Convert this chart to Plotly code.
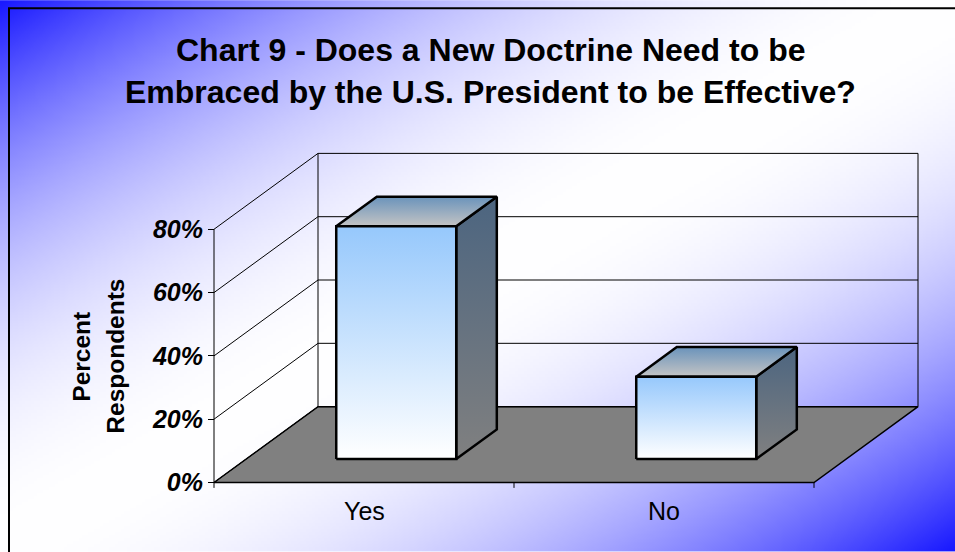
import base64, struct, zlib
import numpy as np
import plotly.graph_objects as go

# ---------------- data ----------------
CATEGORIES = ["Yes", "No"]
VALUES = [73.5, 26.0]            # percent respondents
Y_TICKS = [0, 20, 40, 60, 80]
Y_TICKTEXT = ["0%", "20%", "40%", "60%", "80%"]
TITLE_LINES = ["Chart 9 - Does a New Doctrine Need to be",
               "Embraced by the U.S. President to be Effective?"]
Y_TITLE_LINES = ["Percent", "Respondents"]

# ---------------- layout geometry ----------------
W, H = 955, 552
X_LO, X_HI = -0.62, 1.90
Y_LO, Y_HI = -3.0, 108.2
ML, MR, MT, MB = 178, 21, 140, 59.5
PW, PH = W - ML - MR, H - MT - MB
Y_MAX = 80                      # axis max
DX, DY = 0.3467, 23.97          # oblique depth offset (category units, %)
BAR_W = 0.4
D0, D1 = 0.31, 0.70             # bar depth span (fraction of floor depth)
FONT = "Liberation Sans, Arial, sans-serif"

def px_x(px):
    return (px - ML) / PW
def px_y(py):
    return (H - MB - py) / PH
def data_x(xv):
    return (xv - X_LO) / (X_HI - X_LO)

# ---------------- background gradient image ----------------
gw, gh = 320, 185
xs = np.linspace(0, 1, gw)[None, :]
ys = np.linspace(0, 1, gh)[:, None]
t = (xs + ys) / 2.0
s = np.minimum(t, 1 - t) * 2.0          # 0 at corners, 1 at diagonal
s = np.clip(s, 0, 1)
v = 25 + 230 * (1 - (1 - s) ** 2)
rgb = np.zeros((gh, gw, 3), dtype=np.uint8)
rgb[..., 0] = v.astype(np.uint8)
rgb[..., 1] = v.astype(np.uint8)
rgb[..., 2] = 255

def make_png(arr):
    h, w, _ = arr.shape
    raw = b"".join(b"\x00" + arr[i].tobytes() for i in range(h))
    def chunk(tag, data):
        return (struct.pack(">I", len(data)) + tag + data +
                struct.pack(">I", zlib.crc32(tag + data) & 0xffffffff))
    return (b"\x89PNG\r\n\x1a\n" +
            chunk(b"IHDR", struct.pack(">IIBBBBB", w, h, 8, 2, 0, 0, 0)) +
            chunk(b"IDAT", zlib.compress(raw, 9)) + chunk(b"IEND", b""))

bg_src = "data:image/png;base64," + base64.b64encode(make_png(rgb)).decode()

fig = go.Figure()

def poly(xs_, ys_, fill=None, line_color="black", line_width=1.0, grad=None):
    kw = dict(x=list(xs_) + [xs_[0]], y=list(ys_) + [ys_[0]], mode="lines",
              line=dict(color=line_color, width=line_width),
              hoverinfo="skip", showlegend=False)
    if fill is not None or grad is not None:
        kw["fill"] = "toself"
        if fill is not None:
            kw["fillcolor"] = fill
        if grad is not None:
            kw["fillgradient"] = grad
    fig.add_trace(go.Scatter(**kw))

def seg(x0, y0, x1, y1, width=1.0):
    fig.add_trace(go.Scatter(x=[x0, x1], y=[y0, y1], mode="lines",
                             line=dict(color="black", width=width),
                             hoverinfo="skip", showlegend=False))

xl, xr = -0.5, len(CATEGORIES) - 0.5

# floor
poly([xl, xr, xr + DX, xl + DX], [0, 0, DY, DY], fill="#808080",
      line_color="black", line_width=1.5)

# back wall gridlines and edges
for yv in Y_TICKS:
    seg(xl + DX, yv + DY, xr + DX, yv + DY)
seg(xl + DX, DY, xl + DX, Y_MAX + DY)
seg(xr + DX, DY, xr + DX, Y_MAX + DY)
# side wall diagonals and front edge
for yv in Y_TICKS:
    seg(xl, yv, xl + DX, yv + DY)
seg(xl, 0, xl, Y_MAX)
# category tick marks below floor
for b in range(len(CATEGORIES) + 1):
    xb = xl + b
    seg(xb, 0, xb, -1.7)

# bars
for i, val in enumerate(VALUES):
    c = i
    fx0 = c - BAR_W / 2 + D0 * DX
    fx1 = c + BAR_W / 2 + D0 * DX
    bx0 = c - BAR_W / 2 + D1 * DX
    bx1 = c + BAR_W / 2 + D1 * DX
    fy0, fy1 = D0 * DY, val + D0 * DY
    by0, by1 = D1 * DY, val + D1 * DY
    # side face
    poly([fx1, bx1, bx1, fx1], [fy0, by0, by1, fy1], line_width=2.5,
         grad=dict(type="vertical", start=fy0, stop=by1,
                   colorscale=[[0, "#808080"], [1, "#4c6580"]]))
    # top face
    poly([fx0, fx1, bx1, bx0], [fy1, fy1, by1, by1], line_width=2.5,
         grad=dict(type="vertical", start=fy1, stop=by1,
                   colorscale=[[0, "#c4c4c4"], [1, "#6a93bb"]]))
    # front face
    poly([fx0, fx1, fx1, fx0], [fy0, fy0, fy1, fy1], line_width=2.5,
         grad=dict(type="vertical", start=fy0, stop=fy1,
                   colorscale=[[0, "#ffffff"], [1, "#96c8fc"]]))

annotations = []
for i, cat in enumerate(CATEGORIES):
    annotations.append(dict(x=data_x(i), y=px_y(512), xref="paper", yref="paper", text=cat,
                            showarrow=False, xanchor="center", yanchor="middle",
                            font=dict(family=FONT, size=25, color="black")))
for j, line in enumerate(TITLE_LINES):
    annotations.append(dict(x=px_x(490), y=px_y(50 + 42 * j), xref="paper", yref="paper",
                            text=line, showarrow=False, xanchor="center", yanchor="middle",
                            font=dict(family=FONT, size=32, color="black", weight="bold")))
for j, line in enumerate(Y_TITLE_LINES):
    annotations.append(dict(x=px_x(82 + 34 * j), y=px_y(357), xref="paper", yref="paper",
                            text=line, textangle=-90, showarrow=False,
                            xanchor="center", yanchor="middle",
                            font=dict(family=FONT, size=24.5, color="black", weight="bold")))

shapes = [dict(type="rect", xref="paper", yref="paper",
               x0=px_x(9), y0=px_y(570), x1=px_x(970), y1=px_y(8),
               line=dict(color="black", width=2), fillcolor="rgba(0,0,0,0)",
               layer="above")]

fig.update_layout(
    width=W, height=H,
    margin=dict(l=ML, r=MR, t=MT, b=MB, pad=0),
    paper_bgcolor="white", plot_bgcolor="rgba(0,0,0,0)",
    xaxis=dict(range=[X_LO, X_HI], visible=False, fixedrange=True),
    yaxis=dict(range=[Y_LO, Y_HI], anchor="free",
               position=data_x(xl),
               tickvals=Y_TICKS, ticktext=Y_TICKTEXT,
               ticks="outside", ticklen=6, tickcolor="black", tickwidth=1,
               showgrid=False, zeroline=False, showline=False,
               tickfont=dict(family=FONT, size=25, color="black",
                             weight="bold", style="italic"),
               fixedrange=True),
    images=[dict(source=bg_src, xref="paper", yref="paper",
                 x=px_x(0), y=px_y(0), sizex=W / PW, sizey=H / PH,
                 xanchor="left", yanchor="top", sizing="stretch", layer="below")],
    annotations=annotations,
    shapes=shapes,
    showlegend=False,
)

fig.write_html("out.html")
